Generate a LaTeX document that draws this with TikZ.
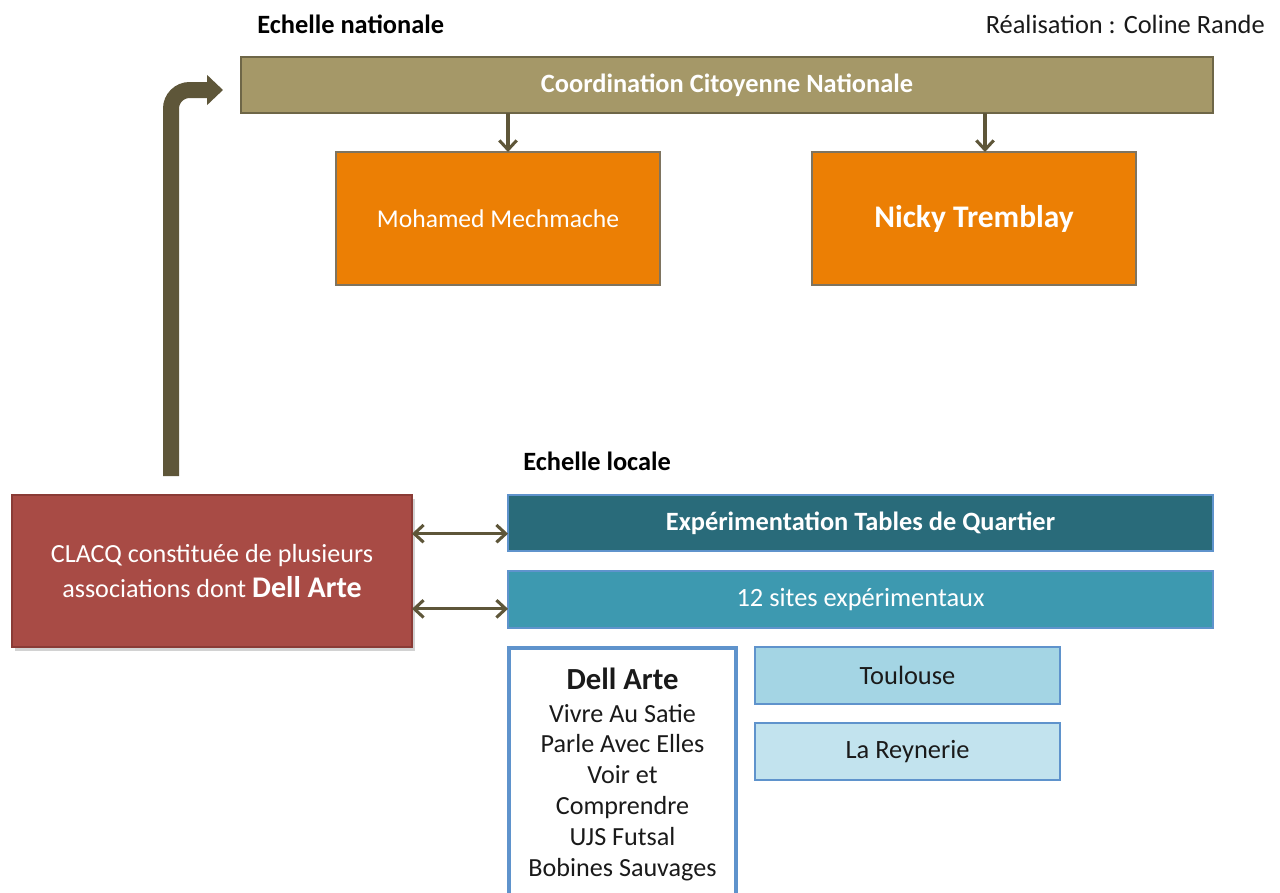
\documentclass[tikz,border=0pt]{standalone}
\usepackage{fontspec}
\setmainfont{Carlito}
\usetikzlibrary{arrows.meta,shadows,calc}
\definecolor{nat}{HTML}{A59868}
\definecolor{natborder}{HTML}{6E6647}
\definecolor{orng}{HTML}{EC7F04}
\definecolor{orngborder}{HTML}{7E7460}
\definecolor{arr}{HTML}{5E5639}
\definecolor{clacq}{HTML}{A84B45}
\definecolor{clacqborder}{HTML}{8A3B36}
\definecolor{exper}{HTML}{296B7A}
\definecolor{sites}{HTML}{3D99B0}
\definecolor{blueborder}{HTML}{5F93CC}
\definecolor{toul}{HTML}{A4D5E4}
\definecolor{reyn}{HTML}{C2E3EE}
\definecolor{txt}{HTML}{1A1A1A}
\tikzset{
  box/.style={draw, line width=1pt, inner sep=0pt, outer sep=0pt, align=center},
  natbox/.style={box, fill=nat, draw=natborder, text=white, font=\fontsize{19.8}{24}\selectfont\bfseries},
  orbox/.style={box, fill=orng, draw=orngborder, text=white},
  lightbox/.style={box, draw=blueborder, text=txt, font=\fontsize{19.8}{24}\selectfont},
  downarrow/.style={draw=arr, line width=2.3pt, -{Straight Barb[length=7pt,width=13pt,line width=2.3pt]}},
  dblarrow/.style={draw=arr, line width=2.3pt, {Straight Barb[length=7pt,width=13pt,line width=2.3pt]}-{Straight Barb[length=7pt,width=13pt,line width=2.3pt]}},
  bigarrow/.style={draw=arr, line width=12pt, rounded corners=14pt, -{Triangle[length=12pt,width=22pt]}},
  heading/.style={inner sep=0pt, font=\fontsize{19.8}{24}\selectfont\bfseries, text=black},
}
\begin{document}
\begin{tikzpicture}[x=0.75pt,y=-0.75pt]
\useasboundingbox[fill=white] (0,0) rectangle (1280,892);

\node[heading, anchor=west] (hnat) at (257,24) {Echelle nationale};
\node[inner sep=0pt, anchor=east, font=\fontsize{19.8}{24}\selectfont, text=txt] (real) at (1265,24) {Réalisation : Coline Rande};

\node[natbox, minimum width=972*0.75pt, minimum height=56*0.75pt] (coord) at (727,85) {Coordination Citoyenne Nationale};

\node[orbox, minimum width=324*0.75pt, minimum height=133*0.75pt, font=\fontsize{19.2}{24}\selectfont] (moh) at (498,218.5) {Mohamed Mechmache};
\node[orbox, minimum width=324*0.75pt, minimum height=133*0.75pt, font=\fontsize{23.6}{28}\selectfont\bfseries] (nicky) at (974,218.5) {Nicky Tremblay};

\draw[downarrow] (coord.south -| 508,0) -- (moh.north -| 508,0);
\draw[downarrow] (coord.south -| 985,0) -- (nicky.north -| 985,0);

\node[heading, anchor=west] (hloc) at (523,461) {Echelle locale};

\node[box, fill=clacq, draw=clacqborder, text=white, minimum width=400*0.75pt, minimum height=152*0.75pt,
  font=\fontsize{19.6}{26.2}\selectfont,
  drop shadow={opacity=0.35, shadow xshift=2pt, shadow yshift=-3pt}] (clacq) at (212,571)
  {CLACQ constituée de plusieurs\\associations dont {\fontsize{22.5}{26.2}\selectfont\bfseries Dell Arte}};

\node[box, fill=exper, draw=blueborder, text=white, minimum width=705*0.75pt, minimum height=56*0.75pt,
  font=\fontsize{19.8}{24}\selectfont\bfseries] (exp) at (860.5,523) {Expérimentation Tables de Quartier};
\node[box, fill=sites, draw=blueborder, text=white, minimum width=705*0.75pt, minimum height=57*0.75pt,
  font=\fontsize{19.8}{24}\selectfont] (sites) at (860.5,599.5) {12 sites expérimentaux};

\draw[dblarrow] ([yshift=-8pt]clacq.east |- exp.west) -- ([yshift=-8pt]exp.west);
\draw[dblarrow] ([yshift=-7pt]clacq.east |- sites.west) -- ([yshift=-7pt]sites.west);

\coordinate (bstart) at (171,476);
\coordinate (bend) at (223,90);
\draw[bigarrow] (bstart) |- (bend);

\node[lightbox, fill=toul, minimum width=305*0.75pt, minimum height=57*0.75pt] (toul) at (907.5,675.5) {Toulouse};
\node[lightbox, fill=reyn, minimum width=305*0.75pt, minimum height=57*0.75pt] (reyn) at (907.5,751.5) {La Reynerie};

\draw[draw=blueborder, line width=2.5pt, fill=white] (509,648) rectangle (736,900);
\node[inner sep=0pt, anchor=north, align=center, text=txt, font=\fontsize{19.6}{23.2}\selectfont] (dell) at (622.5,668)
  {{\fontsize{23}{23}\selectfont\bfseries Dell Arte}\\[1pt]Vivre Au Satie\\Parle Avec Elles\\Voir et\\Comprendre\\UJS Futsal\\Bobines Sauvages};
\end{tikzpicture}
\end{document}
